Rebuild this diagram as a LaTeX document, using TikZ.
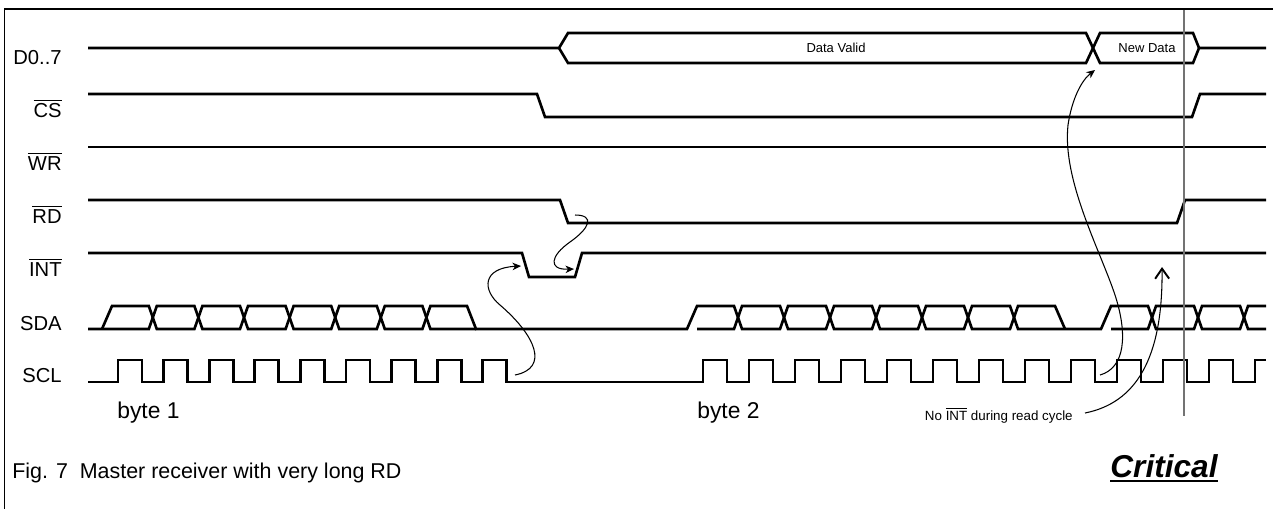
\documentclass[tikz,border=0pt]{standalone}
\usepackage{fontspec}
\setmainfont{Liberation Sans}
\usetikzlibrary{arrows.meta}
\newcommand{\barsig}[1]{$\overline{\mbox{#1}}$}
\def\xe{1266}

\begin{document}
\begin{tikzpicture}[
    x=0.02cm, y=-0.02cm,
    sig/.style={line width=1.5pt, line join=miter},
    sigmark/.style={anchor=base east, inner sep=0pt, font=\fontsize{11.5}{13}\selectfont},
    bytemark/.style={anchor=base west, inner sep=0pt, font=\fontsize{13}{15}\selectfont},
    buslabel/.style={inner sep=0pt, font=\fontsize{7.4}{9}\selectfont},
    cause/.style={-{Stealth[length=1.7mm, width=1.5mm, inset=0.5mm]}, line width=0.6pt},
    hint/.style={-{Straight Barb[length=2mm, width=2.8mm, line width=1.1pt]}, line width=0.6pt},
    marker/.style={line width=1pt, black!55}
]
\useasboundingbox (0,0) rectangle (1273,508);

% Frame
\draw[line width=0.9pt] (4.5,9) rectangle (1300,530);

% Signal names
\node[sigmark] (lD) at (62,64) {D0..7};
\node[sigmark] (lCS) at (62,117) {\barsig{CS}};
\node[sigmark] (lWR) at (62,170) {\barsig{WR}};
\node[sigmark] (lRD) at (62,223) {\barsig{RD}};
\node[sigmark] (lINT) at (62,276) {\barsig{INT}};
\node[sigmark] (lSDA) at (62,330) {SDA};
\node[sigmark] (lSCL) at (62,382) {SCL};

% D0..7 bus
\draw[sig] (88,48) -- (559,48) -- (568,33) -- (1086,33) -- (1100,63) -- (1193,63) -- (1199,48) -- (\xe,48);
\draw[sig] (559,48) -- (568,63) -- (1086,63) -- (1100,33) -- (1193,33) -- (1199,48);
\node[buslabel] (dvalid) at (836,48) {Data Valid};
\node[buslabel] (dnew) at (1147,48) {New Data};

% CS, WR, RD, INT
\draw[sig] (88,94) -- (537,94) -- (545,117) -- (1192,117) -- (1200,94) -- (\xe,94);
\draw[sig] (88,147) -- (\xe,147);
\draw[sig] (88,200) -- (560,200) -- (568,223) -- (1177,223) -- (1185,200) -- (\xe,200);
\draw[sig] (88,253) -- (522,253) -- (529,277) -- (575,277) -- (582,253) -- (\xe,253);

% SDA
\draw[sig] (88,329)
  foreach \k in {0,...,6} { -- ({148.8+45.6*\k},{317.5+11.5*cos(180*\k)}) -- ({156.8+45.6*\k},{317.5-11.5*cos(180*\k)}) }
  -- (467,306) -- (476,329) -- (687,329) -- (697,306)
  foreach \k in {0,...,6} { -- ({734+46*\k},{317.5-11.5*cos(180*\k)}) -- ({742+46*\k},{317.5+11.5*cos(180*\k)}) }
  -- (1101,329) -- (1111,306)
  foreach \k in {0,...,2} { -- ({1148+46*\k},{317.5-11.5*cos(180*\k)}) -- ({1156+46*\k},{317.5+11.5*cos(180*\k)}) }
  -- (\xe,329);
\draw[sig] (102,329) -- (112,306)
  foreach \k in {0,...,6} { -- ({148.8+45.6*\k},{317.5-11.5*cos(180*\k)}) -- ({156.8+45.6*\k},{317.5+11.5*cos(180*\k)}) }
  -- (476,329);
\draw[sig] (697,329)
  foreach \k in {0,...,6} { -- ({734+46*\k},{317.5+11.5*cos(180*\k)}) -- ({742+46*\k},{317.5-11.5*cos(180*\k)}) }
  -- (1055,306) -- (1065,329);
\draw[sig] (1111,329)
  foreach \k in {0,...,2} { -- ({1148+46*\k},{317.5+11.5*cos(180*\k)}) -- ({1156+46*\k},{317.5-11.5*cos(180*\k)}) }
  -- (\xe,306);

% SCL
\draw[sig] (88,382)
  foreach \k in {0,...,8} { -- ({118+45.6*\k},382) -- ++(0,-22) -- ++(24,0) -- ++(0,22) }
  foreach \k in {0,...,11} { -- ({703+46*\k},382) -- ++(0,-22) -- ++(24,0) -- ++(0,22) }
  -- (1255,382) -- (1255,360) -- (\xe,360);

\node[bytemark] (b1) at (117,418) {byte 1};
\node[bytemark] (b2) at (697,418) {byte 2};

% read strobe marker
\draw[marker] (1184,10) -- (1184,416);

% Cause arrows
\coordinate (sclA) at (515,375);
\coordinate (intF) at (521,266);
\coordinate (rdF) at (575,215);
\coordinate (intR) at (574,269);
\coordinate (sclB) at (1100,375);
\coordinate (newD) at (1095,70);
\coordinate (nostart) at (1085,413);
\coordinate (intNo) at (1162,267);

\draw[cause] (sclA) .. controls (550,368) and (535,335) .. (500,305) .. controls (482,290) and (482,268) .. (intF);
\draw[cause] (rdF) .. controls (595,215) and (590,228) .. (570,242) .. controls (550,256) and (548,270) .. (intR);
\draw[cause] (sclB) .. controls (1125,368) and (1128,335) .. (1115,295) .. controls (1100,250) and (1062,180) .. (1068,125) .. controls (1072,98) and (1082,80) .. (newD);

\node[anchor=base east, inner sep=0pt, font=\fontsize{7.6}{9}\selectfont] (noint) at (1073,420) {No \barsig{INT} during read cycle};
\draw[hint] (nostart) .. controls (1135,403) and (1163,360) .. (intNo);

% Caption
\node[anchor=base west, inner sep=0pt, font=\fontsize{12.2}{14}\selectfont] (cap) at (12,478) {Fig. 7\ \ Master receiver with very long RD};
\node[anchor=base west, inner sep=0pt, font=\fontsize{18}{20}\selectfont\bfseries\itshape] (crit) at (1110,477) {Critical};
\draw[line width=1.1pt] ([yshift=-2.3pt]crit.base west) -- ([yshift=-2.3pt]crit.base east);

\end{tikzpicture}
\end{document}
